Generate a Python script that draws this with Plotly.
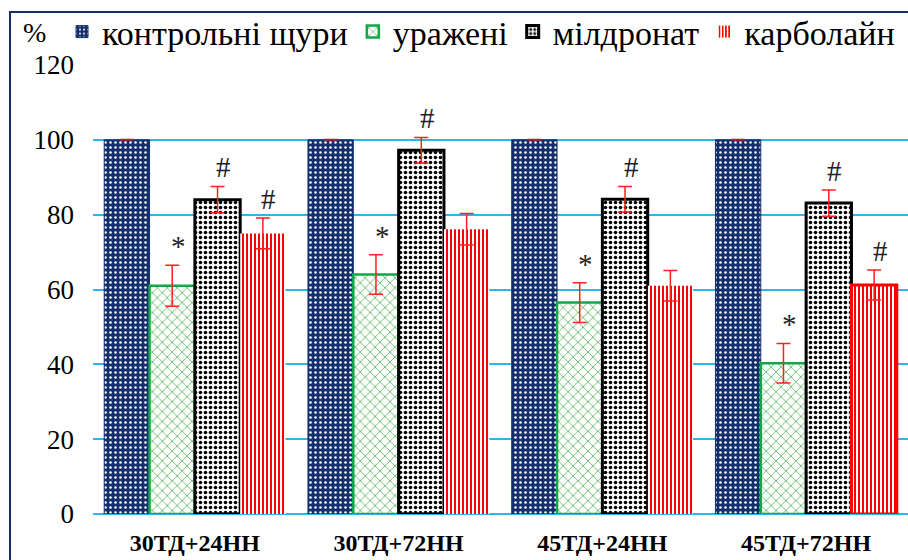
import plotly.graph_objects as go

categories = ["30ТД+24НН", "30ТД+72НН", "45ТД+24НН", "45ТД+72НН"]
series_names = ["контрольні щури", "уражені", "мілдронат", "карболайн"]

control = [100, 100, 100, 100]
affected = [61, 64, 56.5, 40.3]
mildronate = [84, 97.2, 84.1, 83.1]
carbolaine = [75, 76.1, 61, 61.2]

control_err = [0, 0, 0, 0]
affected_err = [5.5, 5.3, 5.3, 5.3]
mildronate_err = [3.5, 3.4, 3.4, 3.5]
carbolaine_err = [4.1, 4.2, 4.1, 4.0]

marks_affected = ["*", "*", "*", "*"]
marks_mildronate = ["#", "#", "#", "#"]
marks_carbolaine = ["#", "", "", "#"]

FONT = "Liberation Serif, Times New Roman, serif"
GRID = "#2CB5EE"
BARGAP = 0.11

fig = go.Figure()

fig.add_trace(go.Bar(
    name=series_names[0], x=categories, y=control,
    marker=dict(color="#13306C",
                line=dict(color="#13306C", width=1),
                pattern=dict(shape=".", fillmode="replace", fgcolor="#FFFFFF",
                             bgcolor="#13306C", size=5, solidity=0.2)),
    error_y=dict(type="data", array=control_err, color="#A3262C", thickness=2, width=7),
))
fig.add_trace(go.Bar(
    name=series_names[1], x=categories, y=affected,
    marker=dict(color="#5DBB63",
                line=dict(color="#12A84A", width=2.5),
                pattern=dict(shape="x", fillmode="replace", fgcolor="#6CC070",
                             bgcolor="#FFFFFF", size=7, solidity=0.25)),
    error_y=dict(type="data", array=affected_err, color="#FF2020", thickness=1.5, width=7),
))
fig.add_trace(go.Bar(
    name=series_names[2], x=categories, y=mildronate,
    marker=dict(color="#000000",
                line=dict(color="#000000", width=3),
                pattern=dict(shape=".", fillmode="replace", fgcolor="#000000",
                             bgcolor="#FFFFFF", size=5, solidity=0.4)),
    error_y=dict(type="data", array=mildronate_err, color="#FF2020", thickness=1.5, width=7),
))
fig.add_trace(go.Bar(
    name=series_names[3], x=categories, y=carbolaine,
    marker=dict(color="#FF0000",
                line=dict(color="#FF0000", width=[0, 0, 0, 3]),
                pattern=dict(shape="|", fillmode="replace", fgcolor="#FF0000",
                             bgcolor="#FFFFFF", size=4, solidity=0.5)),
    error_y=dict(type="data", array=carbolaine_err, color="#FF2020", thickness=1.5, width=7),
))

annotations = []
w = (1 - BARGAP) / 4
series_vals = [(affected, affected_err, marks_affected, 1),
               (mildronate, mildronate_err, marks_mildronate, 2),
               (carbolaine, carbolaine_err, marks_carbolaine, 3)]
for vals, errs, marks, si in series_vals:
    for ci, (v, e, m) in enumerate(zip(vals, errs, marks)):
        if not m:
            continue
        annotations.append(dict(
            x=ci + (-1.5 + si) * w + 0.03, y=v + e + 0.3, xref="x", yref="y",
            text=m, showarrow=False, yanchor="bottom",
            font=dict(family=FONT, size=29, color="#222222")))

annotations.append(dict(x=(34 - 93) / 815, y=(514 - 33) / 449, xref="paper", yref="paper",
                        text="%", showarrow=False, xanchor="center", yanchor="middle",
                        font=dict(family=FONT, size=28, color="#000000")))

fig.update_layout(
    width=908, height=560,
    margin=dict(l=93, r=0, t=65, b=46),
    paper_bgcolor="white", plot_bgcolor="white",
    barmode="group", bargap=BARGAP, bargroupgap=0,
    font=dict(family=FONT, color="#000000"),
    legend=dict(orientation="h", x=(62 - 93) / 815, xanchor="left",
                y=(514 - 32) / 449, yanchor="middle",
                font=dict(family=FONT, size=34, color="#000000"),
                bgcolor="rgba(0,0,0,0)", itemwidth=30, tracegroupgap=0),
    xaxis=dict(tickfont=dict(family=FONT, size=24, weight="bold"),
               showline=False, ticks="", showgrid=False, ticklabelstandoff=12),
    yaxis=dict(range=[0, 120], dtick=20, tickfont=dict(family=FONT, size=27),
               showgrid=True, gridcolor=GRID, gridwidth=2,
               zeroline=True, zerolinecolor=GRID, zerolinewidth=2,
               showline=False, ticks="", ticklabelstandoff=18),
    annotations=annotations,
    shapes=[dict(type="rect", xref="paper", yref="paper",
                 x0=(10 - 93) / 815, x1=1.5, y0=-1, y1=(514 - 12) / 449,
                 line=dict(color="#13306C", width=2), fillcolor="rgba(0,0,0,0)", layer="below")],
)

fig.write_html("out.html")
